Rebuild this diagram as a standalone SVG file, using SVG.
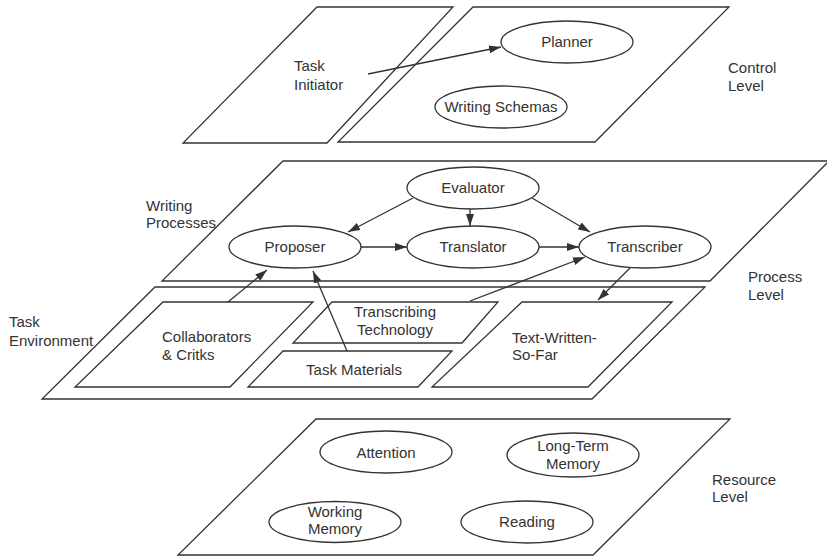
<svg xmlns="http://www.w3.org/2000/svg" width="827" height="558" viewBox="0 0 827 558">
<style>
.pl{fill:#fff;stroke:#333;stroke-width:1.3;stroke-linejoin:miter}
.el{fill:#fff;stroke:#333;stroke-width:1.3}
.t{font-family:"Liberation Sans",Arial,sans-serif;font-size:15px;fill:#333}
.c{text-anchor:middle}
.cn{stroke:#333;stroke-width:1.3;fill:none;marker-end:url(#ah)}
</style>
<defs>
<marker id="ah" markerUnits="userSpaceOnUse" markerWidth="13" markerHeight="9" refX="12" refY="4" orient="auto">
<path d="M0,0 L12,4 L0,8 z" fill="#333"/>
</marker>
</defs>
<rect width="827" height="558" fill="#fff"/>

<g id="control-level">
<g id="task-initiator-plane">
<polygon class="pl" points="317,7 453,7 327,143 183,143"/>
<text class="t" x="294" y="71">Task</text>
<text class="t" x="294" y="90">Initiator</text>
</g>
<g id="control-plane">
<polygon class="pl" points="473,7 729,7 595,142 338,142"/>
</g>
<g id="planner">
<ellipse class="el" cx="567" cy="42" rx="66" ry="21"/>
<text class="t c" x="567" y="47">Planner</text>
</g>
<g id="writing-schemas">
<ellipse class="el" cx="501" cy="107" rx="66" ry="21"/>
<text class="t c" x="501" y="112">Writing Schemas</text>
</g>
<g id="control-label">
<text class="t" x="728" y="73">Control</text>
<text class="t" x="728" y="91">Level</text>
</g>
</g>

<g id="writing-processes">
<polygon class="pl" points="283,161 829,161 710,281 162,281"/>
<text class="t" x="146" y="211">Writing</text>
<text class="t" x="146" y="228">Processes</text>
</g>
<g id="evaluator">
<ellipse class="el" cx="473" cy="188" rx="66" ry="21"/>
<text class="t c" x="473" y="193">Evaluator</text>
</g>
<g id="proposer">
<ellipse class="el" cx="295" cy="247" rx="66" ry="21"/>
<text class="t c" x="295" y="252">Proposer</text>
</g>
<g id="translator">
<ellipse class="el" cx="473" cy="247" rx="66" ry="21"/>
<text class="t c" x="473" y="252">Translator</text>
</g>
<g id="transcriber">
<ellipse class="el" cx="645" cy="247" rx="66" ry="21"/>
<text class="t c" x="645" y="252">Transcriber</text>
</g>
<g id="process-label">
<text class="t" x="748" y="282">Process</text>
<text class="t" x="748" y="300">Level</text>
</g>

<g id="task-environment">
<polygon class="pl" points="155,287 705,287 592,399 42,399"/>
<text class="t" x="9" y="327">Task</text>
<text class="t" x="9" y="346">Environment</text>
</g>
<g id="collaborators">
<polygon class="pl" points="163,302 313,302 230,387 75,387"/>
<text class="t" x="162" y="342">Collaborators</text>
<text class="t" x="162" y="360">&amp; Critks</text>
</g>
<g id="transcribing-technology">
<polygon class="pl" points="332,302 498,302 462,343 293,343"/>
<text class="t c" x="395" y="317">Transcribing</text>
<text class="t c" x="395" y="335">Technology</text>
</g>
<g id="task-materials">
<polygon class="pl" points="283,351 452,351 418,387 248,387"/>
<text class="t c" x="354" y="375">Task Materials</text>
</g>
<g id="text-written-so-far">
<polygon class="pl" points="522,302 672,302 588,387 432,387"/>
<text class="t" x="512" y="343">Text-Written-</text>
<text class="t" x="512" y="360">So-Far</text>
</g>

<g id="resource-level">
<polygon class="pl" points="316,419 730,419 593,555 178,555"/>
<text class="t" x="712" y="485">Resource</text>
<text class="t" x="712" y="502">Level</text>
</g>
<g id="attention">
<ellipse class="el" cx="386" cy="452" rx="66" ry="21"/>
<text class="t c" x="386" y="458">Attention</text>
</g>
<g id="long-term-memory">
<ellipse class="el" cx="573" cy="455" rx="66" ry="22"/>
<text class="t c" x="573" y="451">Long-Term</text>
<text class="t c" x="573" y="469">Memory</text>
</g>
<g id="working-memory">
<ellipse class="el" cx="335" cy="522" rx="66" ry="20.5"/>
<text class="t c" x="335" y="517">Working</text>
<text class="t c" x="335" y="534">Memory</text>
</g>
<g id="reading">
<ellipse class="el" cx="527" cy="522" rx="66" ry="21"/>
<text class="t c" x="527" y="527">Reading</text>
</g>

<g id="connectors">
<line class="cn" x1="368" y1="74" x2="501" y2="47"/>
<line class="cn" x1="413" y1="198" x2="348" y2="232"/>
<line class="cn" x1="470" y1="209" x2="470" y2="226"/>
<line class="cn" x1="532" y1="198" x2="590" y2="232"/>
<line class="cn" x1="361" y1="247" x2="407" y2="247"/>
<line class="cn" x1="539" y1="247" x2="579" y2="247"/>
<line class="cn" x1="470" y1="301" x2="585" y2="257"/>
<line class="cn" x1="630" y1="268" x2="598" y2="300"/>
<line class="cn" x1="228" y1="302" x2="267" y2="270"/>
<line class="cn" x1="347" y1="351" x2="313" y2="271"/>
</g>
</svg>
